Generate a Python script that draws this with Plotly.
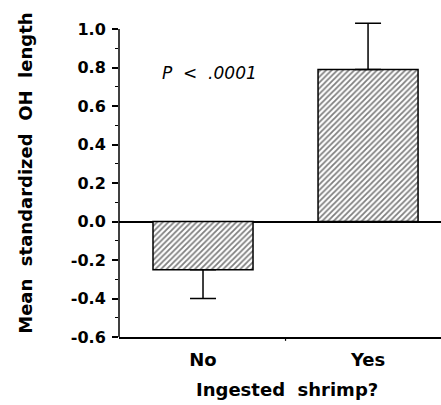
import plotly.graph_objects as go

categories = ["No", "Yes"]
means = [-0.25, 0.79]
err_up = [0.0, 0.24]
err_down = [0.15, 0.0]
ytick_vals = [-0.6, -0.4, -0.2, 0.0, 0.2, 0.4, 0.6, 0.8, 1.0]
ytick_text = ["-0.6", "-0.4", "-0.2", "0.0", "0.2", "0.4", "0.6", "0.8", "1.0"]
y_title = "Mean  standardized  OH  length"
x_title = "Ingested  shrimp?"
p_text = "P  <  .0001"

BOLD = "DejaVu Sans"

fig = go.Figure()
fig.add_trace(go.Bar(
    x=categories, y=means, width=0.606,
    marker=dict(color="white", line=dict(color="black", width=1.5),
                pattern=dict(shape="/", size=4, solidity=0.45,
                             fgcolor="black", bgcolor="white", fillmode="overlay")),
    error_y=dict(type="data", symmetric=False, array=err_up, arrayminus=err_down,
                 color="black", thickness=1.5, width=13),
    showlegend=False,
))

fig.update_layout(
    width=441, height=405,
    margin=dict(l=119, r=0, t=17, b=68),
    paper_bgcolor="white", plot_bgcolor="white",
    xaxis=dict(range=[-0.509, 1.442], showline=True, linecolor="black", linewidth=1.5,
               ticks="", showgrid=False, zeroline=False,
               tickfont=dict(family=BOLD, size=18, color="black", weight="bold"),
               ticklabelstandoff=6),
    yaxis=dict(range=[-0.6, -0.6 + 320 / 192.5], showline=False,
               tickmode="array", tickvals=ytick_vals, ticktext=ytick_text,
               ticks="outside", ticklen=6, tickwidth=1.5, tickcolor="black",
               minor=dict(dtick=0.1, tick0=0, ticks="outside", ticklen=3,
                          tickwidth=1.2, tickcolor="black", showgrid=False),
               showgrid=False, zeroline=True, zerolinecolor="black", zerolinewidth=1.5,
               tickfont=dict(family=BOLD, size=16, color="black", weight="bold"),
               ticklabelstandoff=3),
    shapes=[
        dict(type="line", xref="paper", yref="y", x0=0, x1=0, y0=-0.6, y1=1.0,
             line=dict(color="black", width=1.5)),
        dict(type="line", xref="x", yref="paper", x0=0.5, x1=0.5, y0=0, y1=-0.012,
             line=dict(color="black", width=1.2)),
    ],
    annotations=[
        dict(text=y_title, xref="paper", yref="paper", x=-0.2904, y=0.5117,
             xanchor="center", yanchor="middle", textangle=-90, showarrow=False,
             font=dict(family=BOLD, size=18, color="black", weight="bold")),
        dict(text=x_title, xref="paper", yref="paper", x=(286.5 - 119) / 322, y=-0.165,
             xanchor="center", yanchor="middle", showarrow=False,
             font=dict(family=BOLD, size=18, color="black", weight="bold")),
        dict(text=p_text, xref="paper", yref="paper", x=(209 - 119) / 322, y=(337 - 73) / 320,
             xanchor="center", yanchor="middle", showarrow=False,
             font=dict(family="DejaVu Sans", size=17, color="black", style="italic")),
    ],
)

fig.write_html("out.html")
